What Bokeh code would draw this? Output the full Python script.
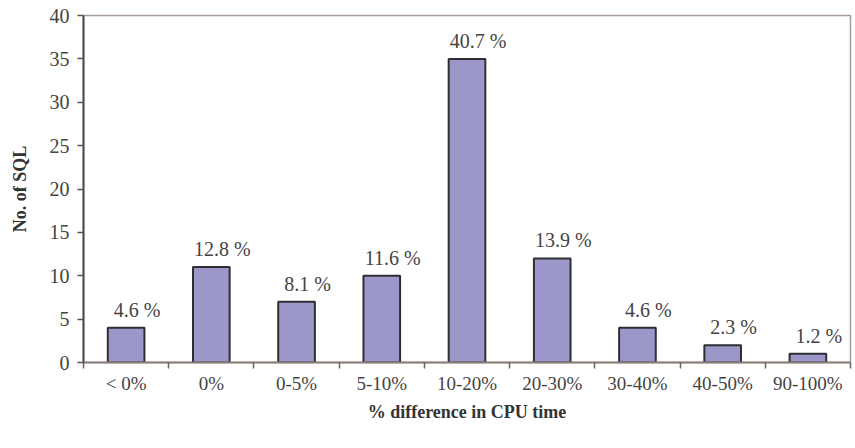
from bokeh.plotting import figure
from bokeh.models import ColumnDataSource, FixedTicker, Range1d
from bokeh.core.properties import value
from bokeh.embed import file_html
from bokeh.resources import INLINE

categories = ["< 0%", "0%", "0-5%", "5-10%", "10-20%", "20-30%", "30-40%", "40-50%", "90-100%"]
counts = [4, 11, 7, 10, 35, 12, 4, 2, 1]
pct_labels = ["4.6 %", "12.8 %", "8.1 %", "11.6 %", "40.7 %", "13.9 %", "4.6 %", "2.3 %", "1.2 %"]
y_ticks = [0, 5, 10, 15, 20, 25, 30, 35, 40]

FONT = "Liberation Serif"
n = len(categories)
centers = [i + 0.5 for i in range(n)]
bounds = list(range(n + 1))

src = ColumnDataSource(dict(x=centers, top=counts, lab=pct_labels))

p = figure(width=852, height=440, output_backend="svg", toolbar_location=None,
           x_range=Range1d(0, n), y_range=Range1d(0, 40),
           min_border_left=83, min_border_right=2, min_border_top=15, min_border_bottom=78)
p.xgrid.visible = False
p.ygrid.visible = False
p.outline_line_color = "#a89c98"
p.outline_line_width = 1.5

p.vbar(x="x", top="top", width=0.43, source=src, fill_color="#9c97c9",
       line_color="#2e2e33", line_width=2)
p.text(x="x", y="top", text="lab", source=src, x_offset=11, y_offset=-7,
       text_align="center", text_baseline="bottom", text_font=value(FONT),
       text_font_size="20px", text_color="#444444")

xa = p.xaxis[0]
xa.ticker = FixedTicker(ticks=centers, minor_ticks=bounds)
xa.major_label_overrides = {c: lab for c, lab in zip(centers, categories)}
xa.major_tick_line_color = None
xa.minor_tick_out = 6
xa.minor_tick_in = 0
xa.minor_tick_line_color = "#666666"
xa.minor_tick_line_width = 1.5
xa.axis_line_color = "#8a7e7a"
xa.axis_line_width = 2
xa.major_label_standoff = 4
xa.major_label_text_font = FONT
xa.major_label_text_font_size = "19px"
xa.major_label_text_color = "#444444"
xa.axis_label = "% difference in CPU time"
xa.axis_label_text_font = FONT
xa.axis_label_text_font_style = "bold"
xa.axis_label_text_font_size = "18px"
xa.axis_label_text_color = "#333333"
xa.axis_label_standoff = 5

ya = p.yaxis[0]
ya.ticker = FixedTicker(ticks=y_ticks)
ya.minor_tick_line_color = None
ya.major_tick_out = 6
ya.major_tick_in = 0
ya.major_tick_line_color = "#555555"
ya.major_tick_line_width = 1.5
ya.axis_line_color = "#4a4a4a"
ya.axis_line_width = 2
ya.major_label_standoff = 8
ya.major_label_text_font = FONT
ya.major_label_text_font_size = "20px"
ya.major_label_text_color = "#444444"
ya.axis_label = "No. of SQL"
ya.axis_label_text_font = FONT
ya.axis_label_text_font_style = "bold"
ya.axis_label_text_font_size = "18px"
ya.axis_label_text_color = "#333333"
ya.axis_label_standoff = 17

open("out.html", "w").write(file_html(p, INLINE))
